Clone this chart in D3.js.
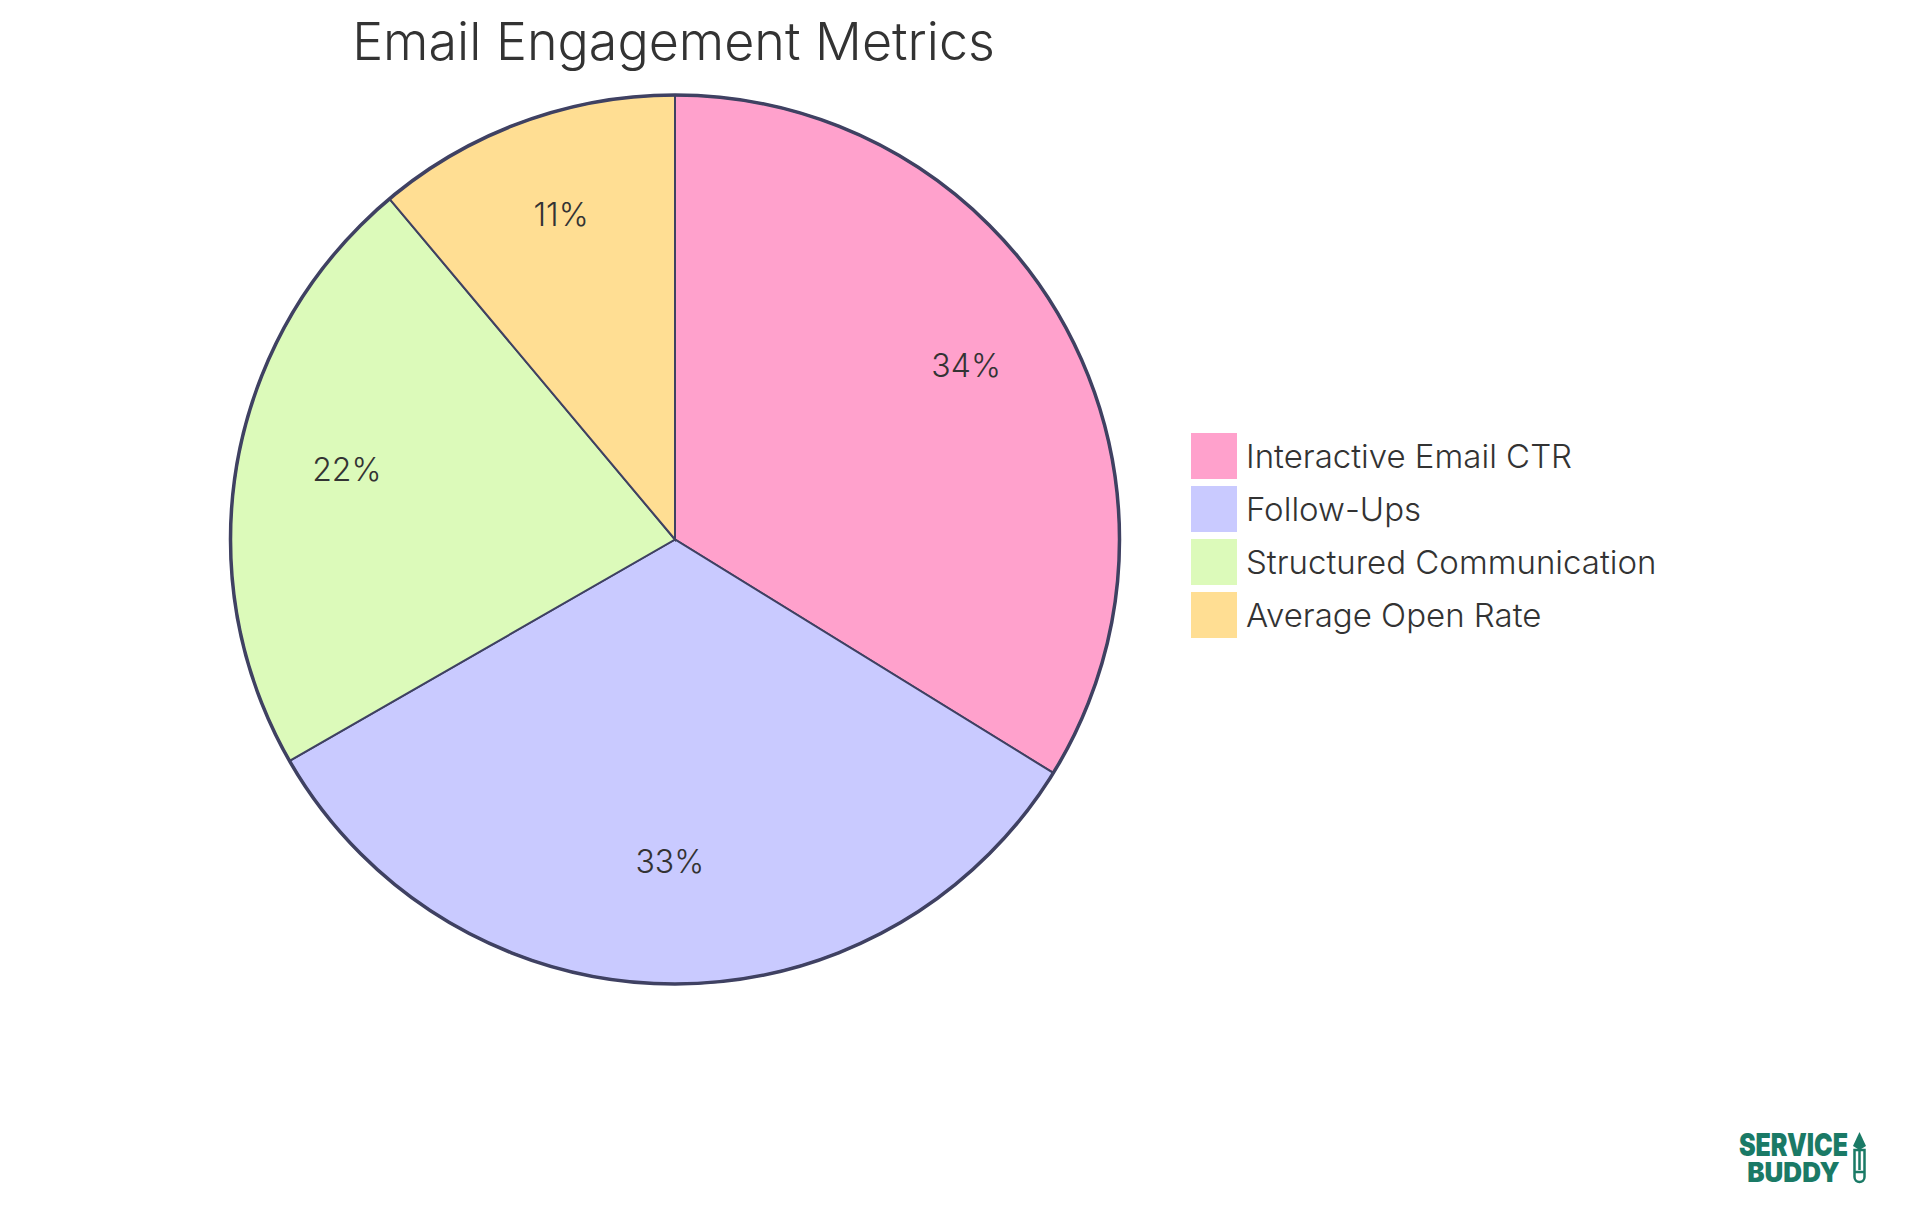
<!DOCTYPE HTML>
<html>
<head>
<meta charset="utf-8" />
<title>Email Engagement Metrics</title>
<script src="https://cdnjs.cloudflare.com/ajax/libs/d3/7.8.5/d3.min.js"></script>
<style>
body { margin: 0; background: #fff; }
text { font-family: Inter, "Open Sans", sans-serif; fill: #333; }
</style>
</head>
<body>
<svg id="chart" width="1920" height="1215"></svg>
<script>
var titleText = "Email Engagement Metrics";
var categories = ["Interactive Email CTR", "Follow-Ups", "Structured Communication", "Average Open Rate"];
var values = [33.8, 32.9, 22.2, 11.1];
var colors = ["#ffa1cc", "#c9caff", "#dcfaba", "#ffde93"];

var svg = d3.select("#chart");
var centerX = 675, centerY = 539.5, radius = 444.5;
var logoGreen = "#1a7a66";

var pie = d3.pie().sort(null).value(function(d) { return d; });
var arc = d3.arc().innerRadius(0).outerRadius(radius);
var labelArc = d3.arc().innerRadius(radius * 0.75).outerRadius(radius * 0.75);
var color = d3.scaleOrdinal().domain(categories).range(colors);

var g = svg.append("g").attr("transform", "translate(" + centerX + "," + centerY + ")");

g.selectAll("path")
  .data(pie(values))
  .enter().append("path")
  .attr("d", arc)
  .attr("fill", function(d, i) { return color(categories[i]); })
  .attr("stroke", "#3f4162")
  .attr("stroke-width", 2);

g.append("circle")
  .attr("r", radius)
  .attr("fill", "none")
  .attr("stroke", "#3f4162")
  .attr("stroke-width", 3.5);

g.selectAll("text")
  .data(pie(values))
  .enter().append("text")
  .attr("transform", function(d) { return "translate(" + labelArc.centroid(d) + ")"; })
  .attr("text-anchor", "middle")
  .attr("font-size", 32)
  .attr("font-weight", 300)
  .text(function(d) { return Math.round(d.value) + "%"; });

// title
svg.append("text")
  .attr("x", 673.5)
  .attr("y", 60)
  .attr("text-anchor", "middle")
  .attr("font-size", 52)
  .attr("font-weight", 300)
  .text(titleText);

// legend
var legendY = d3.scaleBand().domain(categories).range([433, 433 + 53 * 4]);
var legend = svg.selectAll(".legend")
  .data(categories)
  .enter().append("g")
  .attr("class", "legend")
  .attr("transform", function(d) { return "translate(1191," + legendY(d) + ")"; });

legend.append("rect")
  .attr("width", 46)
  .attr("height", 46)
  .attr("fill", function(d) { return color(d); });

legend.append("text")
  .attr("x", 55)
  .attr("y", 35)
  .attr("font-size", 33)
  .attr("font-weight", 300)
  .text(function(d) { return d; });

// logo
var logo = svg.append("g");
logo.append("text")
  .attr("transform", "translate(1793.5,1156) scale(1,1.25)")
  .attr("text-anchor", "middle")
  .attr("font-size", 25)
  .attr("font-weight", 900)
  .style("fill", logoGreen)
  .text("SERVICE");
logo.append("text")
  .attr("transform", "translate(1793.5,1182) scale(1,1.05)")
  .attr("text-anchor", "middle")
  .attr("font-size", 26)
  .attr("font-weight", 900)
  .style("fill", logoGreen)
  .text("BUDDY");
logo.append("path")
  .attr("d", "M1859.5 1132 L1866 1146 L1859.5 1150 L1853 1146 Z")
  .attr("fill", logoGreen);
logo.append("path")
  .attr("d", "M1854.5 1150 H1864.5 V1177 A5 5 0 0 1 1854.5 1177 Z M1859.5 1150 V1170 M1854.5 1172 H1864.5")
  .attr("fill", "none")
  .attr("stroke", logoGreen)
  .attr("stroke-width", 2.5);
</script>
</body>
</html>
